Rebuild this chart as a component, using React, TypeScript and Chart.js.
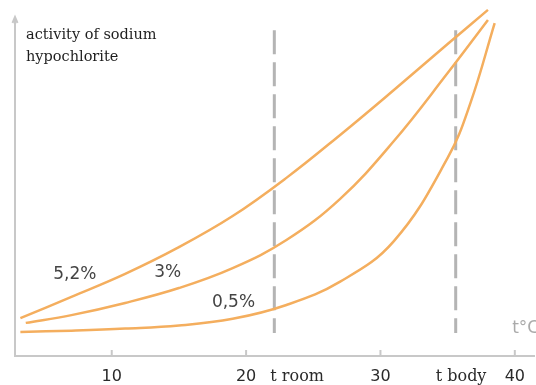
import React, { useEffect, useRef } from "react";
import { Chart, registerables } from "chart.js";

Chart.register(...registerables);

const xTickValues = [10, 20, 30, 40];
const extraTickLabels = [
  { value: 23.8, label: "t room" },
  { value: 36.0, label: "t body" },
];

const x52 = [3.2, 7, 11, 15, 19, 23, 27, 31, 35, 38];
const y52 = [11.2, 17.5, 24.3, 32.2, 41.4, 52.7, 65.4, 78.7, 92.3, 102.4];

const x3 = [3.6, 7, 11, 15, 19, 23, 27, 31, 35, 38];
const y3 = [9.8, 12.1, 15.7, 20.1, 26.0, 34.3, 46.5, 63.6, 83.7, 99.4];

const x05 = [3.2, 7, 11, 15, 19, 23, 27, 31, 35, 36.7, 38.5];
const y05 = [7.1, 7.5, 8.1, 9.0, 11.0, 15.1, 22.0, 34.0, 58.6, 74.9, 98.5];

const tRoom = 22.1;
const tBody = 35.6;
const dashRange = [96.4, 6.8];

const curveLabels = [
  { text: "5,2%", x: 7.25, y: 24.0 },
  { text: "3%", x: 14.16, y: 24.6 },
  { text: "0,5%", x: 19.06, y: 15.7 },
];
const unitLabel = { text: "t°C", x: 39.8, y: 8.0 };
const titleLines = ["activity of sodium", "hypochlorite"];

const ORANGE = "#F4AE5E";
const DASH = "#B4B4B4";
const AXIS = "#C8C8C8";

const toPts = (xs: number[], ys: number[]) => xs.map((x, i) => ({ x, y: ys[i] }));

export default function App() {
  const ref = useRef<HTMLCanvasElement | null>(null);
  useEffect(() => {
    document.body.style.margin = "0";
    const canvas = ref.current;
    if (!canvas) return;

    const decor = {
      id: "decor",
      afterDraw(chart: any) {
        const { ctx, chartArea, scales } = chart;
        const xs = scales.x;
        const ys = scales.y;
        ctx.save();
        ctx.strokeStyle = AXIS;
        ctx.lineWidth = 2;
        ctx.beginPath();
        ctx.moveTo(chartArea.left, chartArea.bottom);
        ctx.lineTo(chartArea.left, chartArea.top);
        ctx.stroke();
        ctx.beginPath();
        ctx.moveTo(chartArea.left - 2.5, chartArea.top + 5);
        ctx.lineTo(chartArea.left, chartArea.top - 1);
        ctx.lineTo(chartArea.left + 2.5, chartArea.top + 5);
        ctx.stroke();
        xTickValues.forEach((v) => {
          const px = xs.getPixelForValue(v);
          ctx.beginPath();
          ctx.moveTo(px, chartArea.bottom - 6);
          ctx.lineTo(px, chartArea.bottom);
          ctx.stroke();
        });
        ctx.fillStyle = "#1e1e1e";
        ctx.font = "14.5px 'DejaVu Serif'";
        ctx.textAlign = "left";
        ctx.textBaseline = "middle";
        titleLines.forEach((t, i) => ctx.fillText(t, chartArea.left + 11, chartArea.top + 17 + i * 22));
        ctx.fillStyle = "#444";
        ctx.font = "17px 'DejaVu Sans'";
        ctx.textAlign = "center";
        curveLabels.forEach((l) => ctx.fillText(l.text, xs.getPixelForValue(l.x), ys.getPixelForValue(l.y)));
        ctx.fillStyle = "#AAAAAA";
        ctx.font = "17px 'DejaVu Sans'";
        ctx.textAlign = "left";
        ctx.fillText(unitLabel.text, xs.getPixelForValue(unitLabel.x), ys.getPixelForValue(unitLabel.y));
        ctx.restore();
      },
    };

    const lineStyle = {
      borderColor: ORANGE,
      borderWidth: 2.5,
      pointRadius: 0,
      fill: false,
      clip: false as any,
      tension: 0.4,
    };
    const dashStyle = {
      borderColor: DASH,
      borderWidth: 3,
      pointRadius: 0,
      fill: false,
      borderDash: [24, 8],
      borderCapStyle: "butt" as const,
    };

    const chart = new Chart(canvas, {
      type: "line",
      data: {
        datasets: [
          { label: "5,2%", data: toPts(x52, y52), ...lineStyle },
          { label: "3%", data: toPts(x3, y3), ...lineStyle },
          { label: "0,5%", data: toPts(x05, y05), ...lineStyle },
          { label: "t room", data: [{ x: tRoom, y: dashRange[0] }, { x: tRoom, y: dashRange[1] }], ...dashStyle },
          { label: "t body", data: [{ x: tBody, y: dashRange[0] }, { x: tBody, y: dashRange[1] }], ...dashStyle },
        ],
      },
      options: {
        animation: false,
        responsive: false,
        maintainAspectRatio: false,
        layout: { padding: { left: 15, right: 0, top: 18, bottom: 0 } },
        plugins: { legend: { display: false }, tooltip: { enabled: false } },
        scales: {
          x: {
            type: "linear",
            min: 2.8,
            max: 41.5,
            afterBuildTicks: (scale: any) => {
              const vals = [...xTickValues, ...extraTickLabels.map((e) => e.value)].sort((a, b) => a - b);
              scale.ticks = vals.map((v) => ({ value: v }));
            },
            afterFit: (scale: any) => {
              scale.height = 29;
            },
            grid: { display: false, drawTicks: false },
            border: { display: true, color: AXIS, width: 2 },
            ticks: {
              autoSkip: false,
              maxRotation: 0,
              padding: 11,
              color: "#2a2a2a",
              callback: (v: any) => {
                const e = extraTickLabels.find((t) => t.value === v);
                return e ? e.label : String(v);
              },
              font: (ctx: any) => {
                const v = ctx.tick ? ctx.tick.value : 0;
                const isExtra = extraTickLabels.some((t) => t.value === v);
                return isExtra
                  ? { family: "'DejaVu Serif'", size: 16 }
                  : { family: "'DejaVu Sans'", size: 16 };
              },
            },
          },
          y: { type: "linear", min: 0, max: 100, display: false },
        },
      },
      plugins: [decor],
    });
    return () => chart.destroy();
  }, []);
  return <canvas ref={ref} width={536} height={385} style={{ display: "block" }} />;
}
